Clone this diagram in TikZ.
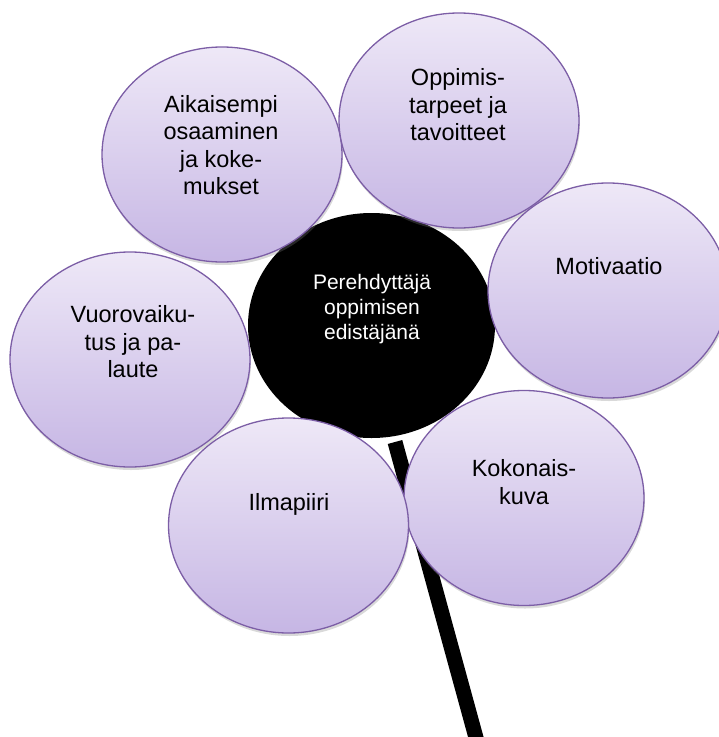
\documentclass[tikz,border=0pt]{standalone}
\usepackage{fontspec}
\setmainfont{Liberation Sans}
\usetikzlibrary{shapes.geometric,shadows}
\definecolor{petaltop}{RGB}{238,232,247}
\definecolor{petalbot}{RGB}{198,182,228}
\definecolor{petalline}{RGB}{124,94,166}
\tikzset{
	petal/.style={ellipse,minimum width=240pt,minimum height=215pt,inner sep=0pt,
		draw=petalline,line width=1.3pt,top color=petaltop,bottom color=petalbot,
		drop shadow={shadow xshift=1pt,shadow yshift=-3pt,opacity=0.3}},
	petaltext/.style={align=center,font=\fontsize{23.5}{27.5}\selectfont,text=black},
	hub/.style={ellipse,minimum width=247pt,minimum height=225pt,inner sep=0pt,fill=black},
	hubtext/.style={align=center,font=\fontsize{21}{25}\selectfont,text=white},
	stem/.style={line width=15pt,black}
}
\begin{document}
\begin{tikzpicture}[x=1pt,y=-1pt]
	\useasboundingbox (0,0) rectangle (719,737);
	\clip (0,0) rectangle (719,737);
	% stem
	\coordinate (stemtop) at (395,442);
	\coordinate (stemend) at (478,745);
	\draw[stem] (stemtop) -- (stemend);
	% middle
	\node[hub] (hub) at (371.5,325.5) {};
	\node[hubtext] (hub-t) at (372,309) {Perehdyttäjä\\oppimisen\\edistäjänä};
	% petals
	\foreach \nm/\cx/\cy/\tx/\ty/\txt in {
		kok/524/498/524/482/{Kokonais-\\kuva},
		ilm/288.5/525.5/289/504/{Ilmapiiri},
		vuo/130/359.5/133/342/{Vuorovaiku-\\tus ja pa-\\laute},
		aik/222/154.5/221/145/{Aikaisempi\\osaaminen\\ja koke-\\mukset},
		opp/459/120.5/458/105/{Oppimis-\\tarpeet ja\\tavoitteet},
		mot/608/290.5/609/266/{Motivaatio}}
	{
		\node[petal] (\nm) at (\cx,\cy) {};
		\node[petaltext] (\nm-t) at (\tx,\ty) {\txt};
	}
\end{tikzpicture}
\end{document}
